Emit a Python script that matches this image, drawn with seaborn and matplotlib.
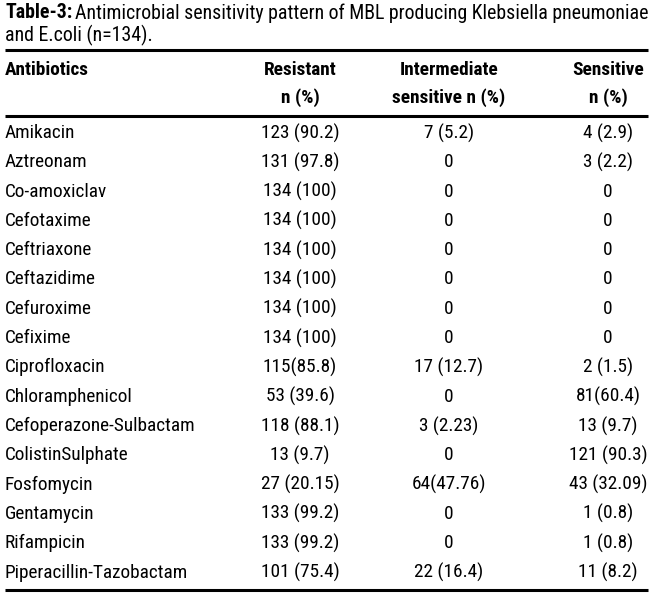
import pandas as pd
import seaborn as sns
import matplotlib.pyplot as plt
from matplotlib import font_manager
from matplotlib.textpath import TextPath
from matplotlib.font_manager import FontProperties

sns.set_theme(style="white")

antibiotics = ["Amikacin", "Aztreonam", "Co-amoxiclav", "Cefotaxime", "Ceftriaxone",
               "Ceftazidime", "Cefuroxime", "Cefixime", "Ciprofloxacin", "Chloramphenicol",
               "Cefoperazone-Sulbactam", "ColistinSulphate", "Fosfomycin", "Gentamycin",
               "Rifampicin", "Piperacillin-Tazobactam"]
resistant = ["123 (90.2)", "131 (97.8)", "134 (100)", "134 (100)", "134 (100)",
             "134 (100)", "134 (100)", "134 (100)", "115(85.8)", "53 (39.6)",
             "118 (88.1)", "13 (9.7)", "27 (20.15)", "133 (99.2)", "133 (99.2)", "101 (75.4)"]
intermediate = ["7 (5.2)", "0", "0", "0", "0", "0", "0", "0", "17 (12.7)", "0",
                "3 (2.23)", "0", "64(47.76)", "0", "0", "22 (16.4)"]
sensitive = ["4 (2.9)", "3 (2.2)", "0", "0", "0", "0", "0", "0", "2 (1.5)", "81(60.4)",
             "13 (9.7)", "121 (90.3)", "43 (32.09)", "1 (0.8)", "1 (0.8)", "11 (8.2)"]

headers = ["Antibiotics", "Resistant\nn (%)", "Intermediate\nsensitive n (%)", "Sensitive\nn (%)"]
title_bold = "Table-3:"
title_rest = "Antimicrobial sensitivity pattern of MBL producing Klebsiella pneumoniae"
title_line2 = "and E.coli (n=134)."

df = pd.DataFrame({"Antibiotics": antibiotics, "Resistant": resistant,
                   "Intermediate": intermediate, "Sensitive": sensitive})

# pick the narrowest installed font (reference uses a condensed face)
candidates = [("Liberation Sans Narrow", "normal"), ("DejaVu Sans", "condensed"),
              ("Roboto Condensed", "normal"), ("Open Sans Condensed", "normal"),
              ("Noto Sans", "condensed"), ("Roboto", "condensed"), ("Roboto", "normal"),
              ("Lato", "normal"), ("Liberation Sans", "normal"), ("DejaVu Sans", "normal")]
sample = title_bold + " " + title_rest
best = None
for fam, st in candidates:
    fp = FontProperties(family=fam, stretch=st, size=13)
    try:
        font_manager.findfont(fp, fallback_to_default=False)
    except Exception:
        continue
    w = TextPath((0, 0), sample, prop=fp).get_extents().width
    if best is None or w < best[2]:
        best = (fam, st, w)

font, stretch, w13 = best
plt.rcParams['font.family'] = [font, 'DejaVu Sans']
plt.rcParams['font.stretch'] = stretch
plt.rcParams['text.color'] = 'black'

# body size from the widest name (~189 px in the reference)
fp_body = FontProperties(family=font, stretch=stretch, size=13)
wname = TextPath((0, 0), "Cefoperazone-Sulbactam", prop=fp_body).get_extents().width

fig = plt.figure(figsize=(6.5, 5.96), dpi=100)
ax = fig.add_axes([0, 0, 1, 1])
ax.set_xlim(0, 650)
ax.set_ylim(596, 0)
ax.axis("off")

# TextPath units are points; at dpi 100 one point = 100/72 px
fs_title = min(16, 13 * 641 / (w13 * 100 / 72))
fs = min(16, 13 * 189 / (wname * 100 / 72))
col_x = [5, 300, 449, 608]
row_y0, row_step = 133, 29.3
kw = dict(fontsize=fs, fontstretch=stretch, va="center")
kt = dict(fontsize=fs_title, fontstretch=stretch, va="center")

# title
t1 = ax.text(5, 13, title_bold, fontweight="bold", ha="left", **kt)
fig.canvas.draw()
bb = t1.get_window_extent()
x_end = ax.transData.inverted().transform((bb.x1, bb.y0))[0]
ax.text(x_end + 3, 13, title_rest, ha="left", **kt)
ax.text(5, 35, title_line2, ha="left", **kt)

# rules
for y in [50, 116, 590]:
    ax.plot([5, 648], [y, y], color="black", lw=2.2, solid_capstyle="butt")

# header
ax.text(col_x[0], 70, headers[0], fontweight="bold", ha="left", **kw)
for x, h in zip(col_x[1:], headers[1:]):
    top, bot = h.split("\n")
    ax.text(x, 70, top, fontweight="bold", ha="center", **kw)
    ax.text(x, 98, bot, fontweight="bold", ha="center", **kw)

# body
for i, row in df.iterrows():
    y = row_y0 + i * row_step
    ax.text(col_x[0], y, row["Antibiotics"], ha="left", **kw)
    ax.text(col_x[1], y, row["Resistant"], ha="center", **kw)
    ax.text(col_x[2], y, row["Intermediate"], ha="center", **kw)
    ax.text(col_x[3], y, row["Sensitive"], ha="center", **kw)

plt.savefig("out.png", dpi=100)
